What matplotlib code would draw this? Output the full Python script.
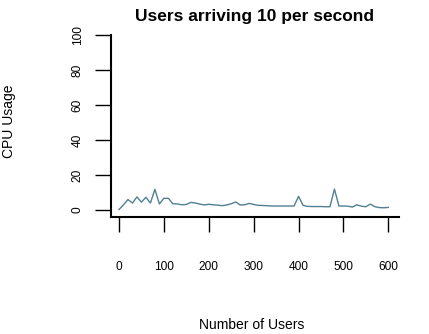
import matplotlib
matplotlib.use("Agg")
import matplotlib.pyplot as plt

plt.rcParams['font.family'] = ['Liberation Sans', 'DejaVu Sans']

users = list(range(0, 610, 10))
cpu = [0.3, 3, 6, 4, 7.5, 4.5, 7.3, 4, 11.8, 3.5,
       6.7, 6.7, 3.6, 3.5, 3.0, 3.2, 4.4, 4.0, 3.4, 2.9,
       3.3, 3.0, 2.8, 2.5, 2.9, 3.6, 4.6, 2.9, 3.0, 3.8,
       3.2, 2.7, 2.6, 2.5, 2.3, 2.3, 2.3, 2.3, 2.3, 2.3,
       7.8, 2.7, 2.1, 2.0, 2.0, 2.0, 1.9, 1.9, 12.0, 2.3,
       2.3, 2.2, 1.7, 3.0, 2.2, 1.9, 3.4, 1.9, 1.4, 1.3,
       1.5]
xticks = [0, 100, 200, 300, 400, 500, 600]
yticks = [0, 20, 40, 60, 80, 100]

W, H = 429, 334
fig = plt.figure(figsize=(W / 100, H / 100), dpi=100)
left, right, top, bottom = 110.7, 399.3, 35.0, 216.7
ax = fig.add_axes([left / W, 1 - bottom / H, (right - left) / W, (bottom - top) / H])

ax.plot(users, cpu, color='#527f92', lw=1.0)
ax.set_xlim(-18.5, 624.5)
ax.set_ylim(-3.8, 100)

for s in ['top', 'right']:
    ax.spines[s].set_visible(False)
for s in ['left', 'bottom']:
    ax.spines[s].set_linewidth(1.5)
    ax.spines[s].set_color('black')

ax.set_xticks(xticks)
ax.set_yticks(yticks)
ax.tick_params(axis='x', length=11, width=1.0, pad=21, labelsize=8.6, direction='out')
ax.tick_params(axis='y', length=11.5, width=1.0, pad=8, labelsize=8.6, direction='out',
               labelrotation=90)
for lab in ax.get_yticklabels():
    lab.set_va('center')

fig.text(254 / W, 1 - 16 / H, 'Users arriving 10 per second', ha='center', va='center',
         fontsize=12.5, fontweight='bold')
fig.text(252 / W, 1 - 325 / H, 'Number of Users', ha='center', va='center', fontsize=10)
fig.text(9 / W, 1 - 121 / H, 'CPU Usage', ha='center', va='center', fontsize=10, rotation=90)

fig.savefig('out.png', dpi=100)
